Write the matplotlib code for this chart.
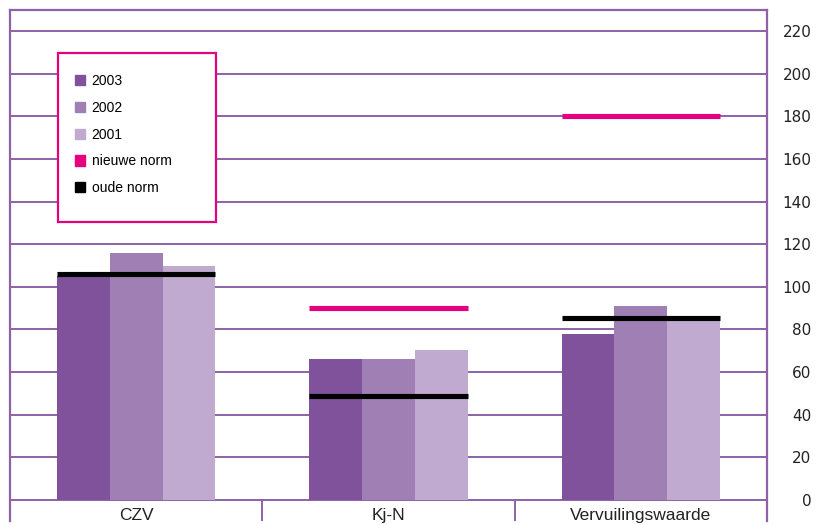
import numpy as np
import matplotlib
matplotlib.use("Agg")
import matplotlib.pyplot as plt
from matplotlib.patches import Patch, Rectangle

# data
categories = ["CZV", "Kj-N", "Vervuilingswaarde"]
series_names = ["2003", "2002", "2001"]
v2003 = [105, 66, 78]
v2002 = [116, 66, 91]
v2001 = [110, 70.5, 85]
nieuwe_norm = [np.nan, 90, 180]
oude_norm = [106, 48.5, 85.5]
yticks = list(range(0, 221, 20))

# styling
bar_colors = ["#7f529b", "#a080b4", "#c1aad0"]
pink = "#e5007d"
grid_purple = "#8d62a9"

fig = plt.figure(figsize=(8.28, 5.25), dpi=100)
W, H = 828, 525
ax = fig.add_axes([10 / W, 4 / H, 757 / W, 511 / H])

x = np.arange(len(categories))
bw = 0.209
for k, vals in enumerate([v2003, v2002, v2001]):
    ax.bar(x + (k - 1) * bw, vals, width=bw, color=bar_colors[k], zorder=2,
           linewidth=0)

# norm lines over the bars
half = 1.5 * bw
for i in range(len(categories)):
    if not np.isnan(nieuwe_norm[i]):
        ax.hlines(nieuwe_norm[i], x[i] - half, x[i] + half, color=pink,
                  linewidth=3.7, zorder=4, capstyle="butt")
    if not np.isnan(oude_norm[i]):
        ax.hlines(oude_norm[i], x[i] - half, x[i] + half, color="black",
                  linewidth=3.7, zorder=4, capstyle="butt")

ax.set_xlim(-0.5, len(categories) - 0.5)
ax.set_ylim(-10, 230)

# grid and frame
ax.set_yticks(yticks)
ax.yaxis.grid(True, color=grid_purple, linewidth=1.4, zorder=1)
ax.set_axisbelow(True)
for side in ["left", "right", "top"]:
    ax.spines[side].set_color(grid_purple)
    ax.spines[side].set_linewidth(1.6)
ax.spines["bottom"].set_visible(False)
ax.vlines(x[:-1] + 0.5, -10, 0, color=grid_purple, linewidth=1.4)

ax.tick_params(axis="y", left=False, labelleft=False, right=True,
               labelright=True, length=0, pad=32, labelsize=11,
               labelcolor="#222222")
for lab in ax.get_yticklabels():
    lab.set_horizontalalignment("right")

ax.set_xticks(x, categories)
ax.tick_params(axis="x", length=0, pad=-9.5, labelsize=12.5,
               labelcolor="#222222")
for lab in ax.get_xticklabels():
    lab.set_family(["Liberation Sans", "DejaVu Sans"])

# legend with its own pink frame
ax.add_patch(Rectangle((48 / 757, (521 - 222) / 511), 158 / 757, 169 / 511,
                       transform=ax.transAxes, fill=True, facecolor="white",
                       edgecolor=pink, linewidth=1.6, zorder=5))
handles = [Patch(color=c) for c in bar_colors] + [Patch(color=pink),
                                                  Patch(color="black")]
labels = series_names + ["nieuwe norm", "oude norm"]
leg = ax.legend(handles, labels, loc="upper left",
                bbox_to_anchor=((75 - 10) / 757, (521 - 74) / 511),
                frameon=False, borderpad=0, borderaxespad=0,
                handlelength=0.75, handleheight=0.75, handletextpad=0.45,
                labelspacing=0.92,
                prop={"family": ["Liberation Sans", "DejaVu Sans"],
                      "size": 10})
leg.set_zorder(6)

fig.savefig("out.png", dpi=100)
